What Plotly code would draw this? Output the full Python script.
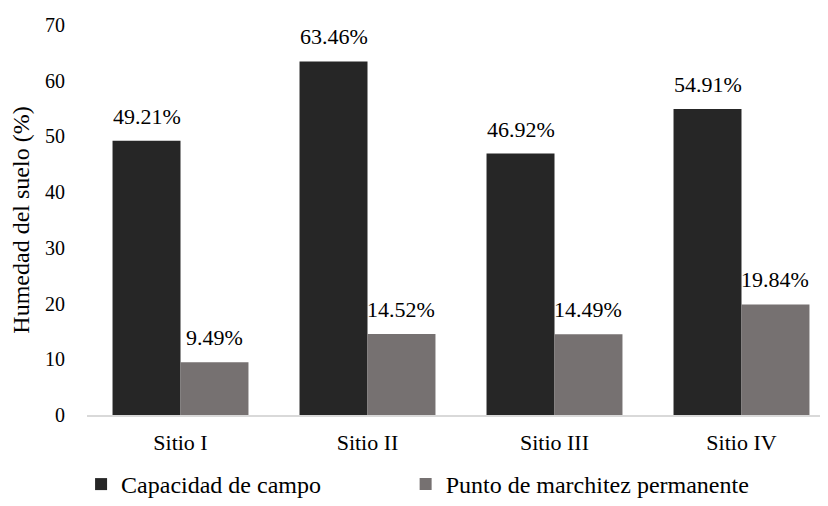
import plotly.graph_objects as go

categories = ["Sitio I", "Sitio II", "Sitio III", "Sitio IV"]
capacidad = [49.21, 63.46, 46.92, 54.91]
marchitez = [9.49, 14.52, 14.49, 19.84]
series_names = ["Capacidad de campo", "Punto de marchitez permanente"]
colors = ["#262626", "#767171"]
y_ticks = [0, 10, 20, 30, 40, 50, 60, 70]

FONT = "Liberation Serif"
BARGAP = 0.273

fig = go.Figure()
for k, (name, vals, col) in enumerate(zip(series_names, [capacidad, marchitez], colors)):
    fig.add_trace(go.Bar(
        x=list(range(len(categories))), y=vals, name=name,
        marker=dict(color=col, line=dict(width=0)),
        legend="legend" if k == 0 else "legend2",
    ))

# data labels above bars
half = (1 - BARGAP) / 4
for k, vals in enumerate([capacidad, marchitez]):
    off = -half if k == 0 else half
    for i, v in enumerate(vals):
        fig.add_annotation(
            x=i + off, y=v, xref="x", yref="y",
            text=f"{v:.2f}%", showarrow=False,
            yanchor="bottom", yshift=10,
            font=dict(family=FONT, size=22, color="#000000"),
        )

legend_common = dict(
    orientation="h", xanchor="left", yanchor="top",
    font=dict(family=FONT, size=24, color="#000000"),
    bgcolor="rgba(0,0,0,0)",
)

fig.update_layout(
    width=828, height=506,
    margin=dict(l=79, r=8, t=17, b=99, autoexpand=False),
    paper_bgcolor="white", plot_bgcolor="white",
    barmode="group", bargap=BARGAP, bargroupgap=0,
    font=dict(family=FONT, size=20, color="#000000"),
    showlegend=True,
    legend=dict(x=-0.008, y=-0.1205, **legend_common),
    legend2=dict(x=0.430, y=-0.1205, **legend_common),
)
fig.update_xaxes(
    tickmode="array", tickvals=list(range(len(categories))), ticktext=categories,
    range=[-0.5, 3.4626], showgrid=False, zeroline=False, automargin=False,
    showline=True, linecolor="#D9D9D9", linewidth=1.5,
    ticks="", ticklabelstandoff=7,
    tickfont=dict(family=FONT, size=22, color="#000000"),
)
fig.update_yaxes(
    range=[0, 70], tickvals=y_ticks, showgrid=False, zeroline=False,
    showline=False, ticks="", ticklabelstandoff=21, automargin=False,
    tickfont=dict(family=FONT, size=20, color="#000000"),
    title=dict(text="Humedad del suelo (%)", standoff=15,
               font=dict(family=FONT, size=24, color="#000000")),
)

fig.write_html("out.html")
